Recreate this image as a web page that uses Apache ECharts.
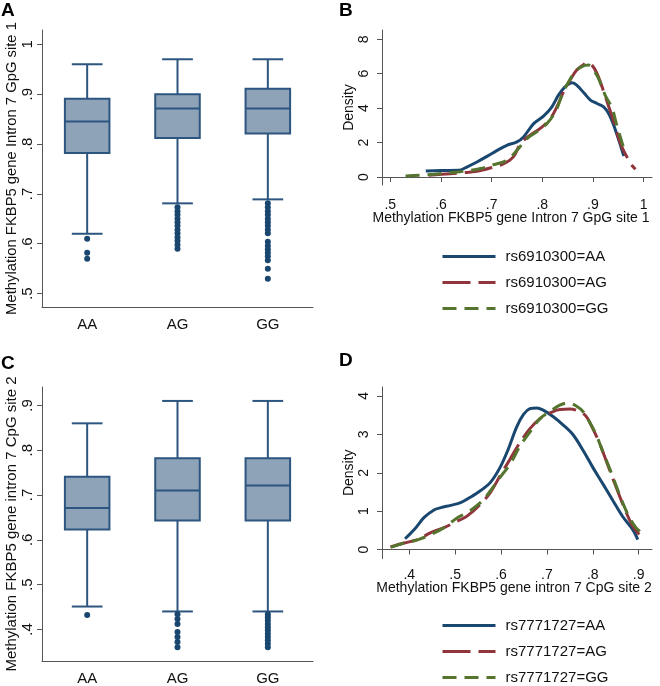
<!DOCTYPE html>
<html>
<head>
<meta charset="utf-8">
<script src="https://cdn.jsdelivr.net/npm/echarts@6/dist/echarts.min.js"></script>
<style>
html,body{margin:0;padding:0;background:#fff;}
#c{width:660px;height:686px;}
</style>
</head>
<body>
<div id="c"></div>
<script>
// ---------- DATA ----------
const genotypes = ['AA', 'AG', 'GG'];

// Panel A: [lower whisker, Q1, median, Q3, upper whisker]
const boxA = [
  [0.620, 0.782, 0.845, 0.891, 0.960],
  [0.681, 0.812, 0.871, 0.900, 0.970],
  [0.689, 0.821, 0.871, 0.911, 0.970]
];
const outA_AA = [0.610, 0.582, 0.570];
const outA_AG = [0.673, 0.665, 0.658, 0.650, 0.643, 0.636, 0.628, 0.621, 0.613, 0.606, 0.598, 0.590];
const outA_GG = [0.681, 0.673, 0.665, 0.658, 0.650, 0.643, 0.636, 0.628, 0.621, 0.604, 0.596, 0.589, 0.582, 0.575, 0.567, 0.550, 0.530];

// Panel C
const boxC = [
  [0.451, 0.623, 0.671, 0.741, 0.860],
  [0.440, 0.643, 0.710, 0.782, 0.910],
  [0.440, 0.643, 0.721, 0.782, 0.910]
];
const outC_AA = [0.432];
const outC_AG = [0.434, 0.423, 0.412, 0.394, 0.383, 0.372, 0.360];
const outC_GG = [0.434, 0.427, 0.420, 0.412, 0.405, 0.398, 0.390, 0.383, 0.376, 0.368, 0.360];

const tickA = [0.5, 0.6, 0.7, 0.8, 0.9, 1];
const tickC = [0.4, 0.5, 0.6, 0.7, 0.8, 0.9];
const tickBx = [0.5, 0.6, 0.7, 0.8, 0.9, 1];
const tickBy = [0, 2, 4, 6, 8];
const tickDx = [0.4, 0.5, 0.6, 0.7, 0.8, 0.9];
const tickDy = [0, 1, 2, 3, 4];

// Panel B densities [x, density]
const namesB = ['rs6910300=AA', 'rs6910300=AG', 'rs6910300=GG'];
const densB_AA = [[0.570,0.35],[0.600,0.38],[0.635,0.39],[0.651,0.58],[0.671,0.87],[0.691,1.20],[0.711,1.55],[0.730,1.84],[0.750,2.04],[0.763,2.33],[0.783,3.10],[0.803,3.55],[0.819,4.08],[0.832,4.76],[0.845,5.24],[0.859,5.48],[0.868,5.34],[0.882,4.89],[0.895,4.47],[0.908,4.27],[0.921,4.08],[0.931,3.69],[0.941,3.01],[0.951,2.14],[0.961,1.22]];
const densB_AG = [[0.576,0.10],[0.618,0.19],[0.645,0.25],[0.671,0.33],[0.697,0.52],[0.724,0.78],[0.743,1.17],[0.757,1.94],[0.776,2.43],[0.796,2.82],[0.816,3.40],[0.829,4.08],[0.842,4.95],[0.855,5.63],[0.868,6.21],[0.882,6.54],[0.888,6.66],[0.898,6.50],[0.908,6.02],[0.918,5.24],[0.928,4.37],[0.938,3.50],[0.947,2.62],[0.957,1.75],[0.967,1.17],[0.977,0.68],[0.984,0.45]];
const densB_GG = [[0.530,0.06],[0.559,0.10],[0.586,0.16],[0.618,0.25],[0.645,0.33],[0.678,0.49],[0.704,0.72],[0.730,0.97],[0.750,1.55],[0.770,2.23],[0.789,2.62],[0.809,3.10],[0.826,3.79],[0.839,4.76],[0.852,5.53],[0.865,6.12],[0.878,6.41],[0.891,6.50],[0.901,6.21],[0.911,5.73],[0.924,4.76],[0.938,3.98],[0.947,3.01],[0.957,2.04],[0.964,1.30]];

// Panel D densities
const namesD = ['rs7771727=AA', 'rs7771727=AG', 'rs7771727=GG'];
const densD_AA = [[0.391,0.28],[0.411,0.52],[0.432,0.83],[0.454,1.03],[0.469,1.09],[0.490,1.15],[0.512,1.22],[0.533,1.36],[0.555,1.53],[0.577,1.75],[0.598,2.14],[0.616,2.62],[0.634,3.19],[0.649,3.52],[0.663,3.67],[0.678,3.69],[0.692,3.63],[0.714,3.46],[0.735,3.25],[0.757,2.99],[0.779,2.58],[0.800,2.14],[0.822,1.71],[0.844,1.27],[0.865,0.86],[0.887,0.52],[0.898,0.26]];
const densD_AG = [[0.359,0.07],[0.389,0.17],[0.418,0.26],[0.447,0.44],[0.476,0.57],[0.505,0.74],[0.526,0.87],[0.555,1.18],[0.577,1.49],[0.598,1.92],[0.620,2.36],[0.642,2.80],[0.663,3.15],[0.685,3.41],[0.707,3.56],[0.728,3.65],[0.750,3.66],[0.772,3.59],[0.786,3.46],[0.800,3.15],[0.815,2.76],[0.829,2.32],[0.844,1.84],[0.858,1.40],[0.873,0.96],[0.887,0.61],[0.901,0.39]];
const densD_GG = [[0.360,0.06],[0.389,0.17],[0.418,0.25],[0.447,0.39],[0.476,0.57],[0.505,0.83],[0.526,0.96],[0.555,1.22],[0.577,1.53],[0.598,1.88],[0.620,2.23],[0.642,2.71],[0.663,3.06],[0.685,3.41],[0.707,3.60],[0.728,3.76],[0.746,3.82],[0.764,3.74],[0.779,3.59],[0.793,3.32],[0.808,2.97],[0.822,2.54],[0.837,2.10],[0.851,1.66],[0.865,1.22],[0.880,0.83],[0.894,0.57],[0.909,0.41]];

// ---------- STYLE ----------
const FONT = 'Liberation Sans, Arial, sans-serif';
const NAVY = '#1a476f', MAROON = '#90353b', GREEN = '#55752f';
const BOXFILL = '#8fa3b8', BOXLINE = '#2c5680';
const AXIS = '#555555';

function fmt(v) {
  if (v === 0) return '0';
  if (Number.isInteger(v)) return String(v);
  return String(v).replace(/^0\./, '.');
}

function renderBox(params, api) {
  const cat = api.value(0);
  const lo = api.coord([cat, api.value(1)]);
  const q1 = api.coord([cat, api.value(2)]);
  const md = api.coord([cat, api.value(3)]);
  const q3 = api.coord([cat, api.value(4)]);
  const hi = api.coord([cat, api.value(5)]);
  const band = api.size([1, 0])[0];
  const bw = band * 0.493, cw = band * 0.34;
  const x = lo[0];
  const ls = {stroke: BOXLINE, lineWidth: 2};
  return {type: 'group', children: [
    {type: 'line', shape: {x1: x, y1: hi[1], x2: x, y2: q3[1]}, style: ls},
    {type: 'line', shape: {x1: x, y1: q1[1], x2: x, y2: lo[1]}, style: ls},
    {type: 'line', shape: {x1: x - cw/2, y1: hi[1], x2: x + cw/2, y2: hi[1]}, style: ls},
    {type: 'line', shape: {x1: x - cw/2, y1: lo[1], x2: x + cw/2, y2: lo[1]}, style: ls},
    {type: 'rect', shape: {x: x - bw/2, y: q3[1], width: bw, height: q1[1] - q3[1]}, style: {fill: BOXFILL, stroke: BOXLINE, lineWidth: 2}},
    {type: 'line', shape: {x1: x - bw/2, y1: md[1], x2: x + bw/2, y2: md[1]}, style: ls}
  ]};
}

function valAxis(gi, min, max, ticks, name, opts) {
  return Object.assign({
    type: 'value', gridIndex: gi, min: min, max: max,
    splitLine: {show: false},
    axisLine: {show: true, lineStyle: {color: AXIS, width: 1}},
    axisTick: {show: true, length: 5, lineStyle: {color: AXIS}, customValues: ticks},
    axisLabel: {customValues: ticks, formatter: fmt, color: '#111', fontFamily: FONT, fontSize: 14},
    name: name, nameLocation: 'middle', nameMoveOverlap: false,
    nameTextStyle: {color: '#111', fontFamily: FONT, fontSize: 14}
  }, opts || {});
}

function catAxis(gi) {
  return {
    type: 'category', gridIndex: gi, data: genotypes, boundaryGap: true,
    axisLine: {show: true, lineStyle: {color: AXIS}},
    axisTick: {show: false},
    axisLabel: {color: '#111', fontFamily: FONT, fontSize: 15, margin: 10}
  };
}

const outScatter = (gi, arrs) => ({
  type: 'scatter', xAxisIndex: gi, yAxisIndex: gi, symbolSize: 6, z: 3,
  itemStyle: {color: NAVY, opacity: 1},
  data: arrs.flatMap((a, i) => a.map(v => [i, v]))
});

const densLine = (gi, name, data, color, dash) => ({
  type: 'line', name: name, xAxisIndex: gi, yAxisIndex: gi, data: data,
  smooth: 0.35, showSymbol: false, symbol: 'none',
  lineStyle: {color: color, width: 3, type: dash},
  itemStyle: {color: color}
});

const chart = echarts.init(document.getElementById('c'), null, {renderer: 'canvas'});

const yA = valAxis(0, 0.4731, 1.0287, tickA, 'Methylation FKBP5 gene Intron 7 GpG site 1');
Object.assign(yA.axisLabel, {rotate: 90, margin: 7, fontSize: 15});
yA.nameGap = 23; yA.nameTextStyle.fontSize = 14.8;

const yC = valAxis(2, 0.3294, 0.9411, tickC, 'Methylation FKBP5 gene intron 7 CpG site 2');
Object.assign(yC.axisLabel, {rotate: 90, margin: 7, fontSize: 15});
yC.nameGap = 23; yC.nameTextStyle.fontSize = 15;

const xB = valAxis(1, 0.4836, 1.0166, tickBx, 'Methylation FKBP5 gene Intron 7 GpG site 1', {nameGap: 26});
xB.axisLabel.margin = 13;
xB.nameTextStyle.padding = [0, 12, 0, 0];
const yB = valAxis(1, -0.465, 8.54, tickBy, 'Density', {nameGap: 26});
Object.assign(yB.axisLabel, {rotate: 90, margin: 11, fontSize: 14});

const xD = valAxis(3, 0.3407, 0.929, tickDx, 'Methylation FKBP5 gene intron 7 CpG site 2', {nameGap: 23});
xD.axisLabel.margin = 10;
xD.nameTextStyle.padding = [0, 6, 0, 0];
const yD = valAxis(3, -0.234, 4.234, tickDy, 'Density', {nameGap: 26});
Object.assign(yD.axisLabel, {rotate: 90, margin: 11, fontSize: 14});

const legendBase = {
  orient: 'vertical', itemWidth: 53, itemHeight: 10, itemGap: 11, padding: 0,
  itemStyle: {opacity: 0},
  lineStyle: {width: 3},
  textStyle: {color: '#111', fontFamily: FONT, fontSize: 15, lineHeight: 15, padding: [0, 0, 0, 5]},
  selectedMode: false
};

const titleStyle = {color: '#000', fontFamily: FONT, fontSize: 19, fontWeight: 'bold'};

chart.setOption({
  animation: false,
  backgroundColor: '#fff',
  title: [
    {text: 'A', left: 1, top: 1, textStyle: titleStyle, padding: 0},
    {text: 'B', left: 339, top: 1, textStyle: titleStyle, padding: 0},
    {text: 'C', left: 1, top: 354, textStyle: titleStyle, padding: 0},
    {text: 'D', left: 339, top: 351, textStyle: titleStyle, padding: 0}
  ],
  legend: [
    Object.assign({}, legendBase, {data: namesB, left: 441, top: 249}),
    Object.assign({}, legendBase, {data: namesD, left: 441, top: 618, bottom: 0})
  ],
  grid: [
    {left: 42, top: 30, width: 271, height: 277},
    {left: 382, top: 30, width: 270, height: 155},
    {left: 42, top: 387, width: 271, height: 277},
    {left: 382, top: 387, width: 270, height: 171.5}
  ],
  xAxis: [catAxis(0), xB, catAxis(2), xD],
  yAxis: [yA, yB, yC, yD],
  series: [
    {type: 'custom', xAxisIndex: 0, yAxisIndex: 0, renderItem: renderBox,
     encode: {x: 0, y: [1, 2, 3, 4, 5]}, data: boxA.map((b, i) => [i].concat(b)), z: 2},
    outScatter(0, [outA_AA, outA_AG, outA_GG]),
    {type: 'custom', xAxisIndex: 2, yAxisIndex: 2, renderItem: renderBox,
     encode: {x: 0, y: [1, 2, 3, 4, 5]}, data: boxC.map((b, i) => [i].concat(b)), z: 2},
    outScatter(2, [outC_AA, outC_AG, outC_GG]),
    densLine(1, namesB[0], densB_AA, NAVY, 'solid'),
    densLine(1, namesB[1], densB_AG, MAROON, [28, 8]),
    densLine(1, namesB[2], densB_GG, GREEN, [14, 8]),
    densLine(3, namesD[0], densD_AA, NAVY, 'solid'),
    densLine(3, namesD[1], densD_AG, MAROON, [28, 8]),
    densLine(3, namesD[2], densD_GG, GREEN, [14, 8])
  ]
});
</script>
</body>
</html>
